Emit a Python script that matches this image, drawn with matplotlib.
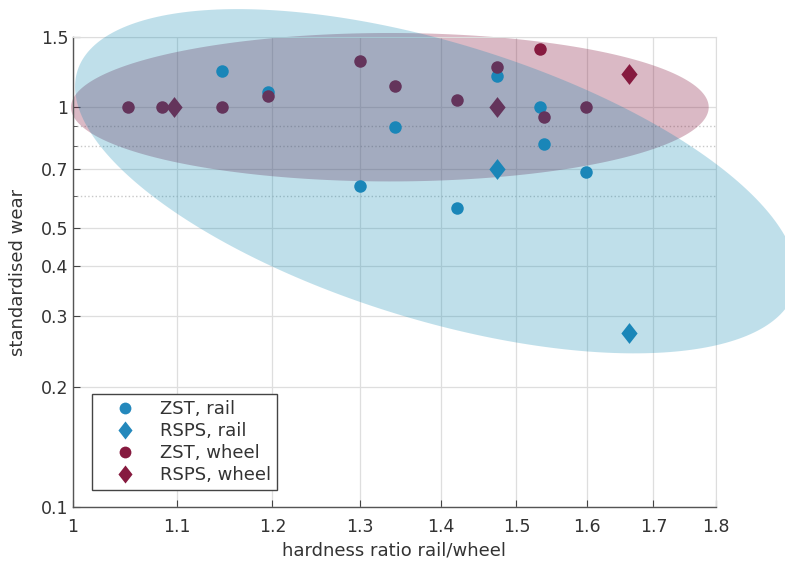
import numpy as np
import matplotlib
matplotlib.use("Agg")
import matplotlib.pyplot as plt
from matplotlib.ticker import FixedLocator, NullLocator, FixedFormatter
from matplotlib.lines import Line2D

# data
zst_rail_x = [1.146, 1.195, 1.342, 1.30, 1.42, 1.473, 1.532, 1.538, 1.598]
zst_rail_y = [1.23, 1.09, 0.89, 0.635, 0.56, 1.20, 1.0, 0.81, 0.69]
rsps_rail_x = [1.473, 1.662]
rsps_rail_y = [0.70, 0.273]
zst_wheel_x = [1.052, 1.085, 1.146, 1.195, 1.30, 1.342, 1.42, 1.473, 1.532, 1.538, 1.598]
zst_wheel_y = [1.0, 1.0, 1.0, 1.066, 1.305, 1.13, 1.04, 1.26, 1.40, 0.945, 1.0]
rsps_wheel_x = [1.097, 1.473, 1.662]
rsps_wheel_y = [1.0, 1.0, 1.21]

# ellipses in log10 space: centre, major axis vector, minor axis vector (decades)
rail_ell_centre = (1.3935, 0.653)
rail_ell_u = (0.1424, -0.2751)
rail_ell_v = (-0.0160, -0.3310)
wheel_ell_centre = (1.336, 1.0)
wheel_ell_u = (0.1266, 0.0)
wheel_ell_v = (0.0, 0.1856)

xticks = [1, 1.1, 1.2, 1.3, 1.4, 1.5, 1.6, 1.7, 1.8]
xtick_labels = ['1', '1.1', '1.2', '1.3', '1.4', '1.5', '1.6', '1.7', '1.8']
yticks = [0.1, 0.2, 0.3, 0.4, 0.5, 0.7, 1, 1.5]
ytick_labels = ['0.1', '0.2', '0.3', '0.4', '0.5', '0.7', '1', '1.5']
yminor = [0.6, 0.8, 0.9]
labels = ['ZST, rail', 'RSPS, rail', 'ZST, wheel', 'RSPS, wheel']

rail_col = '#2488bc'
wheel_col = '#861a3f'
diamond = [(0, 1), (0.78, 0), (0, -1), (-0.78, 0), (0, 1)]


def ellipse_pts(centre, u, v):
    t = np.linspace(0, 2 * np.pi, 300)
    lx = np.log10(centre[0]) + np.cos(t) * u[0] + np.sin(t) * v[0]
    ly = np.log10(centre[1]) + np.cos(t) * u[1] + np.sin(t) * v[1]
    return 10 ** lx, 10 ** ly


fig = plt.figure(figsize=(7.85, 5.66), dpi=100)
ax = fig.add_axes([0.093, 0.104, 0.819, 0.831])
ax.set_xscale('log')
ax.set_yscale('log')

ex, ey = ellipse_pts(wheel_ell_centre, wheel_ell_u, wheel_ell_v)
ax.fill(ex, ey, color=wheel_col, alpha=0.3, lw=0, zorder=1, clip_on=False)

ms_c = 9
ms_d = 15
ax.plot(zst_rail_x, zst_rail_y, 'o', color=rail_col, ms=ms_c, mew=0, zorder=2)
ax.plot(rsps_rail_x, rsps_rail_y, marker=diamond, ls='none', color=rail_col, ms=ms_d, mew=0, zorder=2)
ax.plot(zst_wheel_x, zst_wheel_y, 'o', color=wheel_col, ms=ms_c, mew=0, zorder=2)
ax.plot(rsps_wheel_x, rsps_wheel_y, marker=diamond, ls='none', color=wheel_col, ms=ms_d, mew=0, zorder=2)

ex, ey = ellipse_pts(rail_ell_centre, rail_ell_u, rail_ell_v)
ax.fill(ex, ey, color='#0083af', alpha=0.25, lw=0, zorder=3, clip_on=False)

ax.set_xlim(1, 1.8)
ax.set_ylim(0.1, 1.5)
ax.xaxis.set_major_locator(FixedLocator(xticks))
ax.xaxis.set_major_formatter(FixedFormatter(xtick_labels))
ax.xaxis.set_minor_locator(NullLocator())
ax.yaxis.set_major_locator(FixedLocator(yticks))
ax.yaxis.set_major_formatter(FixedFormatter(ytick_labels))
ax.yaxis.set_minor_locator(FixedLocator(yminor))
ax.yaxis.set_minor_formatter(FixedFormatter(['', '', '']))

ax.grid(True, which='major', color='#dedede', lw=0.9, zorder=0)
ax.grid(True, which='minor', axis='y', color='#c8c8c8', lw=1.0, ls=':', zorder=0)
ax.set_axisbelow(True)

ax.tick_params(which='both', direction='in', colors='#444444', labelcolor='#333333',
               labelsize=12.5, length=5, top=False, right=False)
ax.tick_params(which='minor', length=3)
ax.tick_params(axis='x', pad=8)
for s in ['left', 'bottom']:
    ax.spines[s].set_color('#555555')
    ax.spines[s].set_linewidth(1.0)
for s in ['top', 'right']:
    ax.spines[s].set_color('#dddddd')

ax.set_xlabel('hardness ratio rail/wheel', fontsize=13, color='#333333', labelpad=4)
ax.set_ylabel('standardised wear', fontsize=13, color='#333333', labelpad=10)

handles = [
    Line2D([], [], ls='none', marker='o', color=rail_col, ms=8.5, mew=0),
    Line2D([], [], ls='none', marker=diamond, color=rail_col, ms=13, mew=0),
    Line2D([], [], ls='none', marker='o', color=wheel_col, ms=8.5, mew=0),
    Line2D([], [], ls='none', marker=diamond, color=wheel_col, ms=13, mew=0),
]
leg = ax.legend(handles, labels, loc='lower left', bbox_to_anchor=(0.03, 0.036),
                borderaxespad=0, fontsize=13, fancybox=False, framealpha=1,
                edgecolor='#444444', labelspacing=0.22, handletextpad=0.5,
                borderpad=0.35, handlelength=2.9)
leg.get_frame().set_linewidth(1.0)
for t in leg.get_texts():
    t.set_color('#333333')
leg.set_zorder(5)

fig.savefig('out.png', dpi=100)
